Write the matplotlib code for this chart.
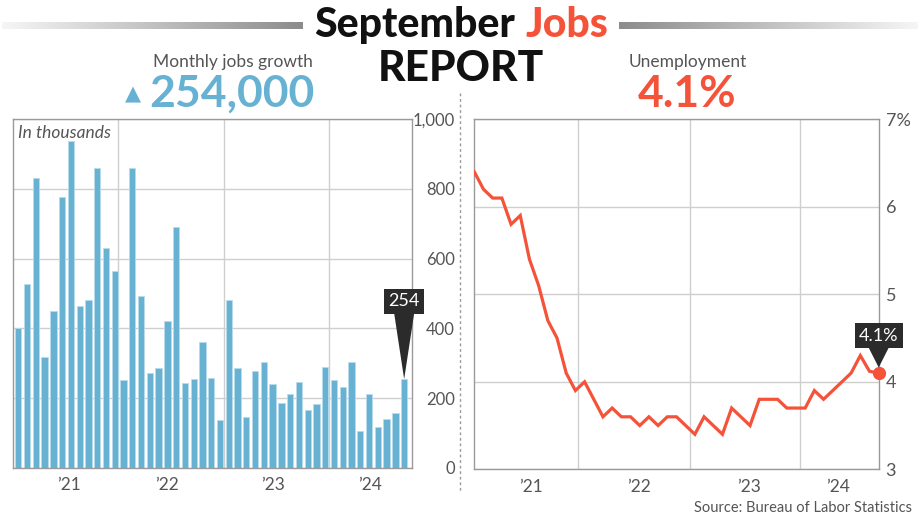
import numpy as np
import matplotlib
matplotlib.use("Agg")
import matplotlib.pyplot as plt
from matplotlib.colors import LinearSegmentedColormap

# ---------------- data ----------------
jobs = [400, 527, 831, 319, 450, 777, 938, 464, 480, 859, 631, 565,
        251, 861, 494, 272, 286, 420, 690, 243, 255, 361, 258, 136,
        481, 287, 146, 277, 302, 240, 185, 211, 246, 166, 182, 289,
        252, 232, 304, 105, 211, 116, 141, 156, 254]
unemployment = [6.4, 6.2, 6.1, 6.1, 5.8, 5.9, 5.4, 5.1, 4.7, 4.5, 4.1, 3.9,
                4.0, 3.8, 3.6, 3.7, 3.6, 3.6, 3.5, 3.6, 3.5, 3.6, 3.6, 3.5,
                3.4, 3.6, 3.5, 3.4, 3.7, 3.6, 3.5, 3.8, 3.8, 3.8, 3.7, 3.7,
                3.7, 3.9, 3.8, 3.9, 4.0, 4.1, 4.3, 4.12, 4.1]
year_labels = ["\u201921", "\u201922", "\u201923", "\u201924"]
jobs_yticks = [0, 200, 400, 600, 800, 1000]
jobs_yticklabels = ["0", "200", "400", "600", "800", "1,000"]
unemp_yticks = [3, 4, 5, 6, 7]
unemp_yticklabels = ["3", "4", "5", "6", "7%"]

BLUE = "#67b2d2"
RED = "#f5523a"
GRAY_TXT = "#555555"
GRID = "#cfcfcf"
SPINE = "#9a9a9a"
FONT = "Lato"

W, H = 920, 517
fig = plt.figure(figsize=(W / 100, H / 100), dpi=100)
fig.patch.set_facecolor("white")


def fx(px):
    return px / W


def fy(py):
    return (H - py) / H


# ---------------- background overlay ----------------
bg = fig.add_axes([0, 0, 1, 1], zorder=0)
bg.set_xlim(0, W)
bg.set_ylim(H, 0)
bg.axis("off")
cmap = LinearSegmentedColormap.from_list("g", ["#f6f6f6", "#8c8c8c"])
grad = np.linspace(0, 1, 256).reshape(1, -1)
bg.imshow(grad, cmap=cmap, extent=[2, 303, 29, 22], aspect="auto")
bg.imshow(grad[:, ::-1], cmap=cmap, extent=[619, 918, 29, 22], aspect="auto")
bg.plot([460, 460], [93, 492], color="#9a9a9a", lw=1, ls=(0, (2, 2)))

# ---------------- header texts ----------------
fig.text(fx(515), fy(37), "September", ha="right", va="baseline",
         fontsize=29.5, fontweight="black", family=FONT, color="#111111")
fig.text(fx(526), fy(37), "Jobs", ha="left", va="baseline",
         fontsize=29.5, fontweight="black", family=FONT, color=RED)
fig.text(fx(461), fy(81), "REPORT", ha="center", va="baseline",
         fontsize=30.5, fontweight="black", family=FONT, color="#111111")
fig.text(fx(232.5), fy(67), "Monthly jobs growth", ha="center", va="baseline",
         fontsize=12.5, family=FONT, color=GRAY_TXT)
fig.text(fx(133), fy(100.5), "\u25b2", ha="center", va="baseline",
         fontsize=15, family="DejaVu Sans", color=BLUE)
fig.text(fx(232), fy(107), "254,000", ha="center", va="baseline",
         fontsize=32, fontweight="bold", family=FONT, color=BLUE)
fig.text(fx(688), fy(67), "Unemployment", ha="center", va="baseline",
         fontsize=12.5, family=FONT, color=GRAY_TXT)
fig.text(fx(687.5), fy(107), "4.1%", ha="center", va="baseline",
         fontsize=32, fontweight="bold", family=FONT, color=RED)
fig.text(fx(912), fy(511.5), "Source: Bureau of Labor Statistics", ha="right",
         va="baseline", fontsize=10.5, family=FONT, color=GRAY_TXT)


def style_axes(ax):
    for s in ax.spines.values():
        s.set_color(SPINE)
        s.set_linewidth(1)
    ax.set_facecolor("white")
    ax.tick_params(which="both", length=0)
    ax.grid(which="major", axis="y", color=GRID, lw=1)
    ax.grid(which="minor", axis="x", color=GRID, lw=1)
    ax.set_axisbelow(True)


# ---------------- left: jobs bars ----------------
ax1 = fig.add_axes([fx(12.7), fy(467.7), (411.7 - 12.7) / W, (467.7 - 119.3) / H], zorder=2)
x = np.arange(len(jobs))
ax1.bar(x, jobs, width=0.72, color=BLUE, edgecolor="#b9dcec", linewidth=0.6, zorder=2)
ax1.set_xlim(-0.64, 44.86)
ax1.set_ylim(0, 1000)
style_axes(ax1)
ax1.set_xticks([5.8, 17.0, 29.0, 40.1], year_labels)
ax1.set_xticks([11.4, 23.4, 35.4], minor=True)
ax1.yaxis.tick_right()
ax1.set_yticks(jobs_yticks, jobs_yticklabels)
ax1.tick_params(axis="y", pad=31, labelsize=12, labelcolor=GRAY_TXT)
ax1.tick_params(axis="x", pad=7, labelsize=12.5, labelcolor=GRAY_TXT)
for lab in ax1.get_yticklabels():
    lab.set_ha("right")
    lab.set_family(FONT)
for lab in ax1.get_xticklabels():
    lab.set_family(FONT)
ax1.text(0.013, 0.985, "In thousands", transform=ax1.transAxes, ha="left", va="top",
         fontsize=12.5, style="italic", family=FONT, color=GRAY_TXT)
ax1.annotate(f"{jobs[-1]}", xy=(x[-1], jobs[-1]), xytext=(0, 56), textcoords="offset points",
             ha="center", va="center", fontsize=13, family=FONT, color="white",
             bbox=dict(boxstyle="square,pad=0.24", fc="#2b2b2b", ec="none"),
             arrowprops=dict(arrowstyle="wedge,tail_width=1.1,shrink_factor=0.5",
                             fc="#2b2b2b", ec="none", shrinkA=0, shrinkB=0),
             annotation_clip=False, zorder=5)

# ---------------- right: unemployment line ----------------
ax2 = fig.add_axes([fx(474.3), fy(469.3), (878.7 - 474.3) / W, (469.3 - 119.3) / H], zorder=2)
xm = np.arange(len(unemployment))
ax2.plot(xm, unemployment, color=RED, lw=2.3, solid_joinstyle="miter", zorder=3)
ax2.plot(xm[-1], unemployment[-1], "o", ms=8.5, color=RED, zorder=4, clip_on=False)
ax2.set_xlim(0, 44)
ax2.set_ylim(3, 7)
style_axes(ax2)
ax2.set_xticks([6.2, 17.9, 29.9, 39.6], year_labels)
ax2.set_xticks([11.3, 23.45, 35.4], minor=True)
ax2.yaxis.tick_right()
ax2.set_yticks(unemp_yticks, unemp_yticklabels)
ax2.tick_params(axis="y", pad=5, labelsize=13, labelcolor=GRAY_TXT)
ax2.tick_params(axis="x", pad=7, labelsize=12.5, labelcolor=GRAY_TXT)
for lab in ax2.get_yticklabels() + ax2.get_xticklabels():
    lab.set_family(FONT)
ax2.annotate(f"{unemployment[-1]:.1f}%", xy=(xm[-1], unemployment[-1]), xytext=(0, 27),
             textcoords="offset points", ha="center", va="center", fontsize=13,
             family=FONT, color="white",
             bbox=dict(boxstyle="square,pad=0.24", fc="#2b2b2b", ec="none"),
             arrowprops=dict(arrowstyle="wedge,tail_width=1.1,shrink_factor=0.5",
                             fc="#2b2b2b", ec="none", shrinkA=0, shrinkB=4),
             annotation_clip=False, zorder=5)

fig.savefig("out.png", dpi=100, facecolor="white")
